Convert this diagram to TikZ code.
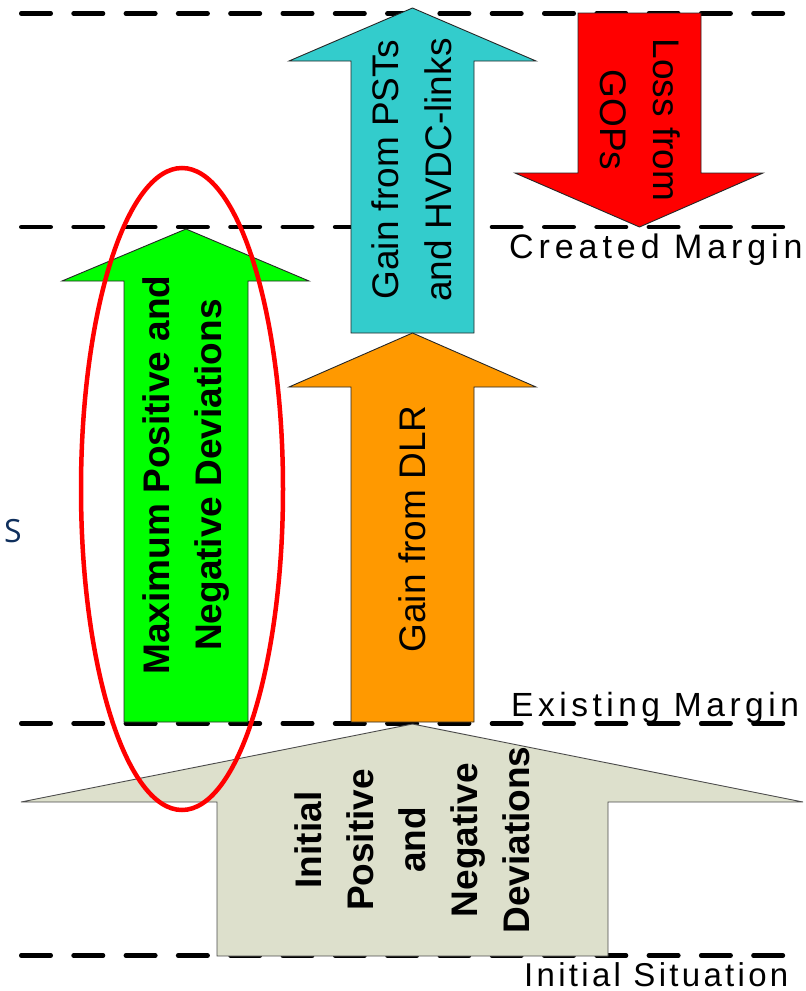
\documentclass[tikz,border=0pt]{standalone}
\usepackage{fontspec}
\setmainfont{Liberation Sans}
\newfontfamily\spacedA[LetterSpace=14.5]{Liberation Sans}
\newfontfamily\spacedC[LetterSpace=13.5]{Liberation Sans}
\newfontfamily\spacedB[LetterSpace=10]{Liberation Sans}
\newfontfamily\sidefont{Open Sans}
\definecolor{cgreen}{HTML}{00FF00}
\definecolor{corange}{HTML}{FF9900}
\definecolor{ccyan}{HTML}{33CCCC}
\definecolor{cred}{HTML}{FF0000}
\definecolor{cbeige}{HTML}{DDE0CC}
\definecolor{cnavy}{HTML}{0F2F5C}
\tikzset{
  guide/.style={line width=4.5pt, dash pattern=on 29.5pt off 22.8pt, line cap=round, black},
  blockarrow/.style={draw=black!85, line width=0.9pt, line join=miter},
  lbl/.style={inner sep=0pt, align=center, font=\fontsize{37}{53}\selectfont},
  boldlbl/.style={inner sep=0pt, align=center, font=\fontsize{37}{52}\selectfont\bfseries},
  marginlbl/.style={inner sep=0pt, anchor=base west},
}
\begin{document}
\begin{tikzpicture}[x=1pt,y=-1pt]
\useasboundingbox (0,0) rectangle (806,991);
% guide lines
\coordinate (g1a) at (21.25,13.5);   \coordinate (g1b) at (784.75,13.5);
\coordinate (g2a) at (21.25,227);    \coordinate (g2b) at (784.75,227);
\coordinate (g3a) at (21.25,723.5);  \coordinate (g3b) at (784.75,723.5);
\coordinate (g4a) at (21.25,955.5);  \coordinate (g4b) at (784.75,955.5);
\draw[guide] (g1a) -- (g1b);
\draw[guide] (g2a) -- (g2b);
\draw[guide] (g3a) -- (g3b);
\draw[guide] (g4a) -- (g4b);
% block arrows
\draw[blockarrow, fill=cgreen] (124,722) -- (124,281) -- (62,281) -- (186,229) -- (309,281) -- (248,281) -- (248,722) -- cycle;
\draw[blockarrow, fill=ccyan] (351,333) -- (351,61) -- (289,61) -- (412.5,8) -- (536,61) -- (474,61) -- (474,333) -- cycle;
\draw[blockarrow, fill=corange] (351,722) -- (351,387) -- (289,387) -- (412.5,333) -- (536,387) -- (474,387) -- (474,722) -- cycle;
\draw[blockarrow, fill=cred] (578,13) -- (578,173) -- (515,173) -- (639.5,227) -- (763,173) -- (701,173) -- (701,13) -- cycle;
\draw[blockarrow, draw=black!70, fill=cbeige] (217,956) -- (217,802) -- (21,802) -- (412.5,724) -- (803,802) -- (608,802) -- (608,956) -- cycle;
% arrow texts
\node[boldlbl, rotate=90] (tgreen) at (186,475) {Maximum Positive and\\Negative Deviations};
\node[lbl, rotate=90] (tcyan) at (412,170) {Gain from PSTs\\and HVDC-links};
\node[lbl, rotate=90] (torange) at (412.5,529) {Gain from DLR};
\node[lbl, rotate=-90] (tred) at (640,120) {Loss from\\GOPs};
\node[boldlbl, rotate=90] (tbeige) at (412,840) {Initial\\Positive\\and\\Negative\\Deviations};
% margin labels
\node[marginlbl, font=\spacedA\fontsize{34}{40}\selectfont] (lcreated) at (509,258) {Created Margin};
\node[marginlbl, font=\spacedC\fontsize{33.5}{40}\selectfont] (lexisting) at (511,716) {Existing Margin};
\node[marginlbl, font=\spacedB\fontsize{33}{40}\selectfont] (linitial) at (524,986) {Initial Situation};
\node[inner sep=0pt, text=cnavy, font=\sidefont\fontsize{32}{38}\selectfont] (side) at (13,531) {S};
% highlight ellipse
\draw[cred, line width=4.5pt] (182,489) ellipse [x radius=101, y radius=321];
\end{tikzpicture}
\end{document}
